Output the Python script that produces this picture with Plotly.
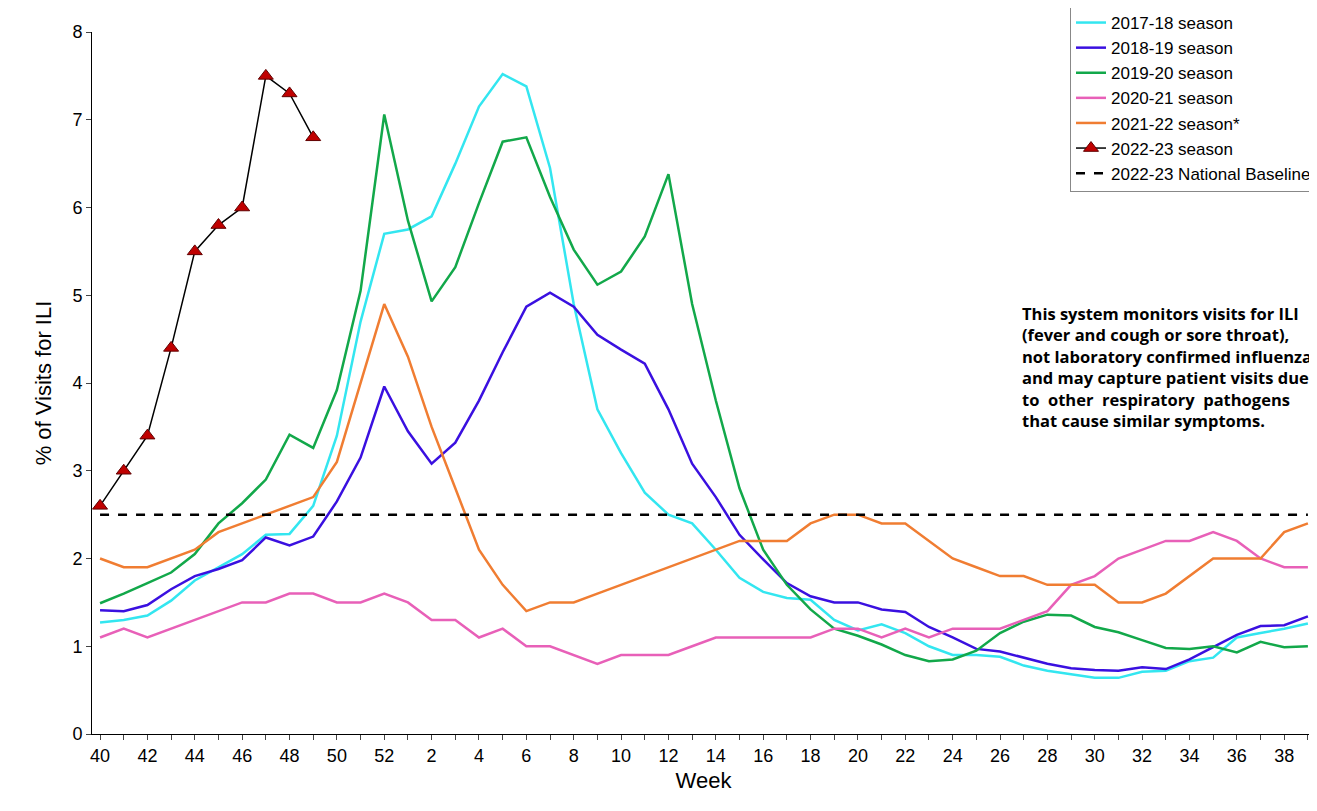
import plotly.graph_objects as go

weeks = [str(w) for w in list(range(40, 53)) + list(range(1, 40))]
tick_labels = [w if int(w) % 2 == 0 else "" for w in weeks]

s1718 = [1.27, 1.3, 1.35, 1.52, 1.75, 1.9, 2.05, 2.27, 2.28, 2.6, 3.4, 4.7, 5.7, 5.75, 5.9, 6.5, 7.15, 7.52, 7.38, 6.45,
         4.9, 3.7, 3.2, 2.75, 2.5, 2.4, 2.1, 1.78, 1.62, 1.55, 1.53, 1.3, 1.18, 1.25, 1.15, 1.0, 0.9, 0.9, 0.88, 0.78,
         0.72, 0.68, 0.64, 0.64, 0.71, 0.72, 0.83, 0.87, 1.1, 1.15, 1.2, 1.26]
s1819 = [1.41, 1.4, 1.47, 1.65, 1.8, 1.88, 1.98, 2.24, 2.15, 2.25, 2.65, 3.15, 3.96, 3.45, 3.08, 3.32, 3.8, 4.35, 4.87, 5.03,
         4.87, 4.55, 4.38, 4.22, 3.7, 3.08, 2.7, 2.27, 1.99, 1.72, 1.57, 1.5, 1.5, 1.42, 1.39, 1.22, 1.1, 0.97, 0.94, 0.87,
         0.8, 0.75, 0.73, 0.72, 0.76, 0.74, 0.85, 0.99, 1.13, 1.23, 1.24, 1.34]
s1920 = [1.49, 1.6, 1.72, 1.84, 2.05, 2.4, 2.63, 2.9, 3.41, 3.26, 3.92, 5.05, 7.06, 5.85, 4.93, 5.32, 6.05, 6.75, 6.8, 6.12,
         5.52, 5.12, 5.27, 5.67, 6.38, 4.9, 3.8, 2.8, 2.1, 1.7, 1.42, 1.2, 1.12, 1.02, 0.9, 0.83, 0.85, 0.95, 1.15, 1.28,
         1.36, 1.35, 1.22, 1.16, 1.07, 0.98, 0.97, 1.0, 0.93, 1.05, 0.99, 1.0]
s2021 = [1.1, 1.2, 1.1, 1.2, 1.3, 1.4, 1.5, 1.5, 1.6, 1.6, 1.5, 1.5, 1.6, 1.5, 1.3, 1.3, 1.1, 1.2, 1.0, 1.0,
         0.9, 0.8, 0.9, 0.9, 0.9, 1.0, 1.1, 1.1, 1.1, 1.1, 1.1, 1.2, 1.2, 1.1, 1.2, 1.1, 1.2, 1.2, 1.2, 1.3,
         1.4, 1.7, 1.8, 2.0, 2.1, 2.2, 2.2, 2.3, 2.2, 2.0, 1.9, 1.9]
s2122 = [2.0, 1.9, 1.9, 2.0, 2.1, 2.3, 2.4, 2.5, 2.6, 2.7, 3.1, 4.0, 4.9, 4.3, 3.5, 2.8, 2.1, 1.7, 1.4, 1.5,
         1.5, 1.6, 1.7, 1.8, 1.9, 2.0, 2.1, 2.2, 2.2, 2.2, 2.4, 2.5, 2.5, 2.4, 2.4, 2.2, 2.0, 1.9, 1.8, 1.8,
         1.7, 1.7, 1.7, 1.5, 1.5, 1.6, 1.8, 2.0, 2.0, 2.0, 2.3, 2.4]
s2223 = [2.6, 3.0, 3.4, 4.4, 5.5, 5.8, 6.0, 7.5, 7.3, 6.8]
baseline = 2.5

x = list(range(len(weeks)))
fig = go.Figure()
for name, vals, col in [("2017-18 season", s1718, "#33e6f0"), ("2018-19 season", s1819, "#3a10e0"),
                        ("2019-20 season", s1920, "#12a84a"), ("2020-21 season", s2021, "#e860b8"),
                        ("2021-22 season*", s2122, "#f07d32")]:
    fig.add_trace(go.Scatter(x=x, y=vals, name=name, mode="lines", line=dict(color=col, width=2.5)))
fig.add_trace(go.Scatter(x=x[:len(s2223)], y=s2223, name="2022-23 season", mode="lines+markers",
                         line=dict(color="black", width=1.5),
                         marker=dict(symbol="triangle-up", size=13, color="#c00000", line=dict(color="#600000", width=1))))
fig.add_trace(go.Scatter(x=x, y=[baseline] * len(x), name="2022-23 National Baseline", mode="lines",
                         line=dict(color="black", width=2.5, dash="dash")))

fig.add_annotation(
    xref="paper", yref="paper", x=(1012 - 84) / 1223, y=(734 - 300) / 702, xanchor="left", yanchor="top",
    align="left", showarrow=False,
    text="<b>This system monitors visits for ILI<br>(fever and cough or sore throat),<br>"
         "not laboratory confirmed influenza<br>and may capture patient visits due<br>"
         "to  other  respiratory  pathogens<br>that cause similar symptoms.</b>",
    font=dict(family="Open Sans", size=16.5, color="black"))

fig.update_layout(
    width=1317, height=811, plot_bgcolor="white", paper_bgcolor="white",
    margin=dict(l=84, r=10, t=24, b=85, autoexpand=False),
    font=dict(family="Liberation Sans, Arial", size=18, color="black"),
    legend=dict(x=(1062 - 84) / 1223, y=(734 - 4) / 702, xanchor="left", yanchor="top",
                bgcolor="white", bordercolor="#888", borderwidth=1, font=dict(size=17), tracegroupgap=0),
    xaxis=dict(range=[-0.34, 51.3], tickvals=x, ticktext=tick_labels, showgrid=False, showline=True,
               linecolor="black", ticks="outside", ticklen=5, title=dict(text="Week", standoff=8)),
    yaxis=dict(range=[0, 8], dtick=1, showgrid=False, showline=True, linecolor="black", ticks="outside",
               ticklen=5, title=dict(text="% of Visits for ILI", standoff=14)),
)
fig.write_html("out.html")
